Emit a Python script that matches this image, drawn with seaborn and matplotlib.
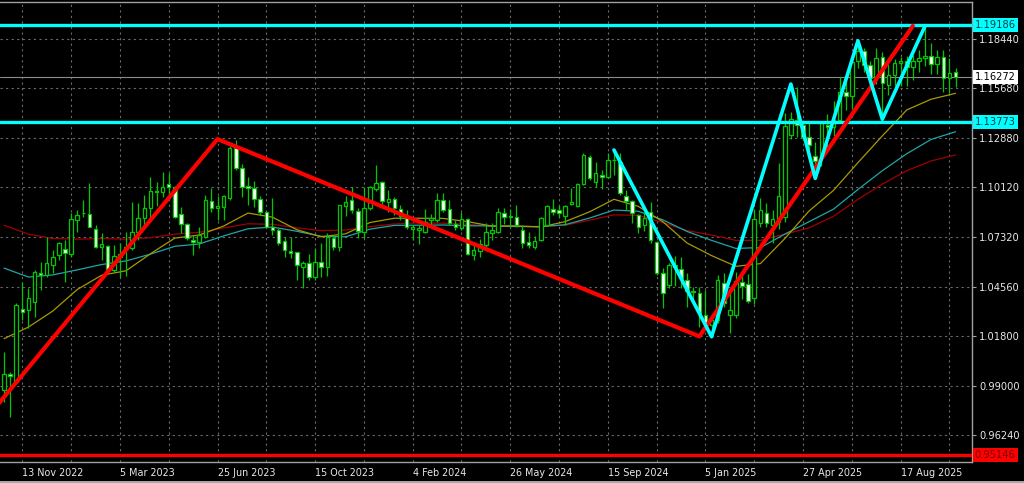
import matplotlib
matplotlib.use("Agg")
import matplotlib.pyplot as plt
from matplotlib.lines import Line2D
import seaborn as sns
import numpy as np
import pandas as pd

# ---------------- data (weekly EURUSD-like candles) ----------------
first_week = "2022-10-23"

opens = [
    0.9878, 0.9966, 0.9925, 1.0331, 1.0326, 1.0372, 1.0531, 1.0521, 1.0578, 1.0633,
    1.0665, 1.0639, 1.0829, 1.0870, 1.0861, 1.0779, 1.0676, 1.0686, 1.0550, 1.0639,
    1.0678, 1.0670, 1.0760, 1.0839, 1.0895, 1.0994, 1.0988, 1.1029, 1.1016, 1.0861,
    1.0805, 1.0717, 1.0708, 1.0736, 1.0936, 1.0895, 1.0904, 1.0951, 1.1230, 1.1122,
    1.1020, 1.1007, 1.0947, 1.0872, 1.0792, 1.0773, 1.0712, 1.0656, 1.0652, 1.0568,
    1.0587, 1.0510, 1.0596, 1.0564, 1.0727, 1.0680, 1.0908, 1.0941, 1.0880, 1.0764,
    1.0895, 1.1001, 1.1040, 1.0932, 1.0945, 1.0889, 1.0839, 1.0779, 1.0775, 1.0764,
    1.0830, 1.0829, 1.0941, 1.0889, 1.0807, 1.0783, 1.0835, 1.0633, 1.0658, 1.0689,
    1.0758, 1.0764, 1.0867, 1.0844, 1.0844, 1.0773, 1.0704, 1.0680, 1.0715, 1.0801,
    1.0889, 1.0885, 1.0852, 1.0919, 1.0908, 1.1029, 1.1184, 1.1044, 1.1082, 1.1072,
    1.1165, 1.1156, 1.0964, 1.0936, 1.0857, 1.0801, 1.0876, 1.0708, 1.0531, 1.0465,
    1.0578, 1.0553, 1.0495, 1.0430, 1.0419, 1.0298, 1.0242, 1.0270, 1.0474, 1.0300,
    1.0300, 1.0483, 1.0469, 1.0394, 1.0810, 1.0870, 1.0801, 1.0819, 1.0845, 1.1304,
    1.1388, 1.1360, 1.1295, 1.1187, 1.1174, 1.1360, 1.1351, 1.1388, 1.1547, 1.1524,
    1.1720, 1.1775, 1.1697, 1.1625, 1.1740, 1.1584, 1.1640, 1.1706, 1.1720, 1.1685,
    1.1720, 1.1735, 1.1745, 1.1700, 1.1740, 1.1625, 1.1655,
]
highs = [
    1.0093, 0.9981, 1.0365, 1.0484, 1.0447, 1.0549, 1.0596, 1.0736, 1.0661, 1.0708,
    1.0717, 1.0870, 1.0885, 1.0941, 1.1034, 1.0801, 1.0755, 1.0689, 1.0689, 1.0700,
    1.0762, 1.0930, 1.0925, 1.0969, 1.1072, 1.1044, 1.1100, 1.1094, 1.1020, 1.0904,
    1.0810, 1.0745, 1.0792, 1.0969, 1.1007, 1.0964, 1.0970, 1.1245, 1.1277, 1.1140,
    1.1072, 1.1045, 1.0965, 1.0880, 1.0951, 1.0782, 1.0736, 1.0736, 1.0652, 1.0600,
    1.0640, 1.0670, 1.0699, 1.0756, 1.0745, 1.0913, 1.0965, 1.1016, 1.0895, 1.1016,
    1.1020, 1.1137, 1.1045, 1.0998, 1.0960, 1.0913, 1.0885, 1.0800, 1.0800, 1.0889,
    1.0865, 1.0978, 1.0982, 1.0942, 1.0830, 1.0876, 1.0839, 1.0690, 1.0724, 1.0811,
    1.0815, 1.0895, 1.0895, 1.0889, 1.0915, 1.0801, 1.0760, 1.0740, 1.0848, 1.0913,
    1.0945, 1.0913, 1.0913, 1.1007, 1.1034, 1.1202, 1.1193, 1.1155, 1.1110, 1.1202,
    1.1221, 1.1202, 1.0997, 1.0942, 1.0862, 1.0876, 1.0932, 1.0712, 1.0559, 1.0590,
    1.0630, 1.0624, 1.0535, 1.0455, 1.0455, 1.0435, 1.0295, 1.0520, 1.0530, 1.0440,
    1.0539, 1.0549, 1.0526, 1.0890, 1.0950, 1.0922, 1.0885, 1.1149, 1.1426, 1.1435,
    1.1575, 1.1390, 1.1380, 1.1267, 1.1375, 1.1420, 1.1495, 1.1630, 1.1614, 1.1745,
    1.1830, 1.1790, 1.1720, 1.1790, 1.1770, 1.1700, 1.1730, 1.1742, 1.1745, 1.1750,
    1.1780, 1.1918, 1.1818, 1.1780, 1.1780, 1.1734, 1.1677,
]
lows = [
    0.9813, 0.9729, 0.9910, 1.0270, 1.0223, 1.0288, 1.0438, 1.0512, 1.0531, 1.0605,
    1.0484, 1.0624, 1.0764, 1.0845, 1.0788, 1.0671, 1.0605, 1.0546, 1.0540, 1.0512,
    1.0516, 1.0660, 1.0715, 1.0783, 1.0830, 1.0910, 1.0960, 1.0943, 1.0842, 1.0755,
    1.0718, 1.0634, 1.0671, 1.0727, 1.0876, 1.0829, 1.0830, 1.0940, 1.1110, 1.0960,
    1.0913, 1.0904, 1.0858, 1.0783, 1.0745, 1.0690, 1.0624, 1.0615, 1.0494, 1.0447,
    1.0495, 1.0495, 1.0512, 1.0517, 1.0660, 1.0656, 1.0850, 1.0870, 1.0727, 1.0727,
    1.0885, 1.0990, 1.0895, 1.0876, 1.0857, 1.0830, 1.0777, 1.0717, 1.0693, 1.0758,
    1.0793, 1.0820, 1.0876, 1.0800, 1.0774, 1.0774, 1.0633, 1.0605, 1.0624, 1.0661,
    1.0717, 1.0755, 1.0805, 1.0790, 1.0792, 1.0671, 1.0671, 1.0666, 1.0710, 1.0793,
    1.0857, 1.0839, 1.0801, 1.0913, 1.0904, 1.1026, 1.1053, 1.1016, 1.1002, 1.1062,
    1.1081, 1.0970, 1.0885, 1.0811, 1.0755, 1.0770, 1.0700, 1.0520, 1.0335, 1.0450,
    1.0460, 1.0447, 1.0345, 1.0385, 1.0232, 1.0235, 1.0177, 1.0255, 1.0340, 1.0195,
    1.0280, 1.0385, 1.0362, 1.0360, 1.0791, 1.0791, 1.0698, 1.0780, 1.0820, 1.1280,
    1.1295, 1.1275, 1.1200, 1.1062, 1.1130, 1.1210, 1.1300, 1.1370, 1.1445, 1.1450,
    1.1680, 1.1660, 1.1555, 1.1590, 1.1391, 1.1530, 1.1580, 1.1580, 1.1580, 1.1610,
    1.1660, 1.1690, 1.1645, 1.1645, 1.1547, 1.1538, 1.1575,
]
closes = [
    0.9966, 0.9955, 1.0354, 1.0316, 1.0391, 1.0540, 1.0521, 1.0587, 1.0620, 1.0699,
    1.0647, 1.0833, 1.0857, 1.0867, 1.0792, 1.0676, 1.0695, 1.0550, 1.0628, 1.0624,
    1.0668, 1.0760, 1.0840, 1.0895, 1.0994, 1.0988, 1.1016, 1.1016, 1.0848, 1.0805,
    1.0727, 1.0704, 1.0745, 1.0941, 1.0895, 1.0908, 1.0966, 1.1230, 1.1119, 1.1016,
    1.1010, 1.0947, 1.0872, 1.0792, 1.0773, 1.0699, 1.0662, 1.0647, 1.0578, 1.0587,
    1.0510, 1.0595, 1.0568, 1.0732, 1.0680, 1.0913, 1.0932, 1.0885, 1.0768, 1.0895,
    1.1012, 1.1034, 1.0937, 1.0947, 1.0895, 1.0852, 1.0788, 1.0788, 1.0782, 1.0820,
    1.0839, 1.0941, 1.0885, 1.0811, 1.0788, 1.0835, 1.0639, 1.0661, 1.0695, 1.0764,
    1.0773, 1.0876, 1.0844, 1.0850, 1.0801, 1.0702, 1.0689, 1.0712, 1.0839, 1.0908,
    1.0876, 1.0867, 1.0908, 1.0928, 1.1029, 1.1193, 1.1063, 1.1090, 1.1072, 1.1165,
    1.1163, 1.0979, 1.0936, 1.0867, 1.0792, 1.0838, 1.0717, 1.0531, 1.0419, 1.0578,
    1.0568, 1.0503, 1.0430, 1.0425, 1.0307, 1.0242, 1.0270, 1.0494, 1.0362, 1.0326,
    1.0489, 1.0459, 1.0377, 1.0832, 1.0885, 1.0814, 1.0832, 1.0963, 1.1355, 1.1392,
    1.1360, 1.1295, 1.1248, 1.1161, 1.1370, 1.1351, 1.1388, 1.1547, 1.1524, 1.1715,
    1.1775, 1.1697, 1.1625, 1.1734, 1.1594, 1.1640, 1.1706, 1.1720, 1.1685, 1.1720,
    1.1735, 1.1745, 1.1700, 1.1740, 1.1625, 1.1650, 1.16272,
]

# moving averages, read every 4th week
ma_weeks = list(range(0, 157, 4))
ma_fast = [
    1.0165, 1.0230, 1.0320, 1.0440, 1.0520, 1.0545, 1.0640, 1.0728, 1.0745, 1.0795,
    1.0868, 1.0845, 1.0775, 1.0735, 1.0752, 1.0815, 1.0839, 1.0839, 1.0838, 1.0820,
    1.0795, 1.0796, 1.0790, 1.0820, 1.0875, 1.0945, 1.0905, 1.0820, 1.0700, 1.0630,
    1.0570, 1.0585, 1.0725, 1.0880, 1.0995, 1.1150, 1.1300, 1.1445, 1.1505, 1.1538,
]
ma_mid = [
    1.0560, 1.0510, 1.0522, 1.0550, 1.0580, 1.0600, 1.0638, 1.0682, 1.0695, 1.0740,
    1.0780, 1.0790, 1.0766, 1.0738, 1.0735, 1.0778, 1.0799, 1.0800, 1.0801, 1.0797,
    1.0796, 1.0793, 1.0792, 1.0803, 1.0840, 1.0885, 1.0878, 1.0830, 1.0765, 1.0715,
    1.0670, 1.0675, 1.0750, 1.0820, 1.0890, 1.1000, 1.1105, 1.1200, 1.1280, 1.1323,
]
ma_slow = [
    1.0800, 1.0750, 1.0725, 1.0722, 1.0725, 1.0722, 1.0730, 1.0750, 1.0760, 1.0785,
    1.0808, 1.0805, 1.0785, 1.0770, 1.0773, 1.0792, 1.0807, 1.0813, 1.0811, 1.0805,
    1.0795, 1.0792, 1.0793, 1.0800, 1.0828, 1.0858, 1.0855, 1.0815, 1.0770, 1.0745,
    1.0715, 1.0715, 1.0750, 1.0785, 1.0850, 1.0945, 1.1030, 1.1105, 1.1160, 1.1193,
]

# hand-drawn trend lines (week index, price)
red_zz_weeks = [-1, 35, 114, 149]
red_zz_prices = [0.9797, 1.1282, 1.0178, 1.1915]
cyan_zz_weeks = [100, 116, 129, 133, 140, 144, 151]
cyan_zz_prices = [1.1221, 1.0176, 1.1590, 1.1062, 1.1832, 1.1393, 1.1915]

cyan_levels = [1.19186, 1.13773]
red_level = 0.95146
last_price = 1.16272

grid_prices = [0.96240, 0.99000, 1.01800, 1.04560, 1.07320, 1.10120, 1.12880, 1.15680, 1.18440]
label_dates = ["2022-11-13", "2023-03-05", "2023-06-25", "2023-10-15", "2024-02-04",
               "2024-05-26", "2024-09-15", "2025-01-05", "2025-04-27", "2025-08-17"]

# ---------------- figure ----------------
sns.set_theme(style="dark")
plt.rcParams['font.family'] = ['DejaVu Sans']

W, H = 1024, 483
fig = plt.figure(figsize=(W / 100, H / 100), dpi=100, facecolor="black")
ax = fig.add_axes([0, 21 / H, 972 / W, 460 / H])
ax.set_facecolor("black")

n = len(opens)
dates = pd.date_range(first_week, periods=n, freq="7D")
x = np.arange(n)
o = np.array(opens); h = np.array(highs); l = np.array(lows); c = np.array(closes)
bull = c >= o

green = "#00c800"
ax.vlines(x, l, h, color=green, linewidth=0.9, zorder=3)
bottom = np.minimum(o, c)
height = np.maximum(np.abs(c - o), 0.00005)
ax.bar(x[bull], height[bull], bottom=bottom[bull], width=0.58, color="black",
       edgecolor=green, linewidth=0.9, zorder=4)
ax.bar(x[~bull], height[~bull], bottom=bottom[~bull], width=0.58, color="white",
       edgecolor=green, linewidth=0.9, zorder=4)

# moving averages
sns.lineplot(x=ma_weeks, y=ma_slow, ax=ax, color="#a00000", linewidth=0.9, zorder=2, legend=False)
sns.lineplot(x=ma_weeks, y=ma_mid, ax=ax, color="#1fa6a6", linewidth=0.9, zorder=2, legend=False)
sns.lineplot(x=ma_weeks, y=ma_fast, ax=ax, color="#a89a00", linewidth=0.9, zorder=2, legend=False)

# horizontal levels
for lv in cyan_levels:
    ax.axhline(lv, color="#00ffff", linewidth=2.4, zorder=5)
ax.axhline(red_level, color="#ff0000", linewidth=2.4, zorder=5)
ax.axhline(last_price, color="#8c8c8c", linewidth=0.8, zorder=2)

# trend lines
sns.lineplot(x=red_zz_weeks, y=red_zz_prices, ax=ax, sort=False, color="#ff0000",
             linewidth=3.0, zorder=6, legend=False)
sns.lineplot(x=cyan_zz_weeks, y=cyan_zz_prices, ax=ax, sort=False, color="#00ffff",
             linewidth=2.6, zorder=7, legend=False)

# axes limits
ax.set_xlim(-0.66, 158.7)
ax.set_ylim(0.9475, 1.2049)

# grid & ticks
label_idx = [dates.get_loc(pd.Timestamp(d)) for d in label_dates]
grid_x = list(range(label_idx[0], n, 8))
xlabels = []
for gi in grid_x:
    if gi in label_idx:
        d = dates[gi]
        xlabels.append(f"{d.day} {d:%b %Y}")
    else:
        xlabels.append("")
ax.set_xticks(grid_x)
ax.set_xticklabels(xlabels, ha="left")
ax.set_yticks(grid_prices)
ax.set_yticklabels([f"{p:.5f}" for p in grid_prices])
ax.yaxis.tick_right()
ax.grid(True, color="#6a6a6a", linestyle=(0, (2, 3)), linewidth=0.8, zorder=1)
ax.set_axisbelow(True)
ax.tick_params(axis="x", colors="#a0a0a0", labelcolor="#e8e8e8", labelsize=6.9,
               length=3, width=0.8, pad=1.5, direction="out")
ax.tick_params(axis="y", colors="#a0a0a0", labelcolor="#e8e8e8", labelsize=7.1,
               length=3, width=0.8, pad=2, direction="out")
ax.set_xlabel(""); ax.set_ylabel("")

for side in ["top", "bottom", "right"]:
    ax.spines[side].set_visible(True)
    ax.spines[side].set_color("#a0a0a0")
    ax.spines[side].set_linewidth(1.0)
ax.spines["left"].set_visible(False)

# price boxes on the right scale
def price_box(price, fc, tc):
    ax.annotate(f"{price:.5f}", xy=(1.0, price), xycoords=("axes fraction", "data"),
                xytext=(2.0, 0), textcoords="offset points", ha="left", va="center",
                fontsize=7.1, color=tc, annotation_clip=False, zorder=10,
                bbox=dict(boxstyle="square,pad=0.2", fc=fc, ec="none"))

for lv in cyan_levels:
    price_box(lv, "#00ffff", "#00404a")
price_box(last_price, "white", "black")
price_box(red_level, "#ff0000", "#7a0000")

# window frame at the very bottom
fig.add_artist(Line2D([0, 1], [1.5 / H, 1.5 / H], transform=fig.transFigure,
                      color="#c8c8c8", linewidth=1.2))

fig.savefig("out.png", dpi=100, facecolor="black")
